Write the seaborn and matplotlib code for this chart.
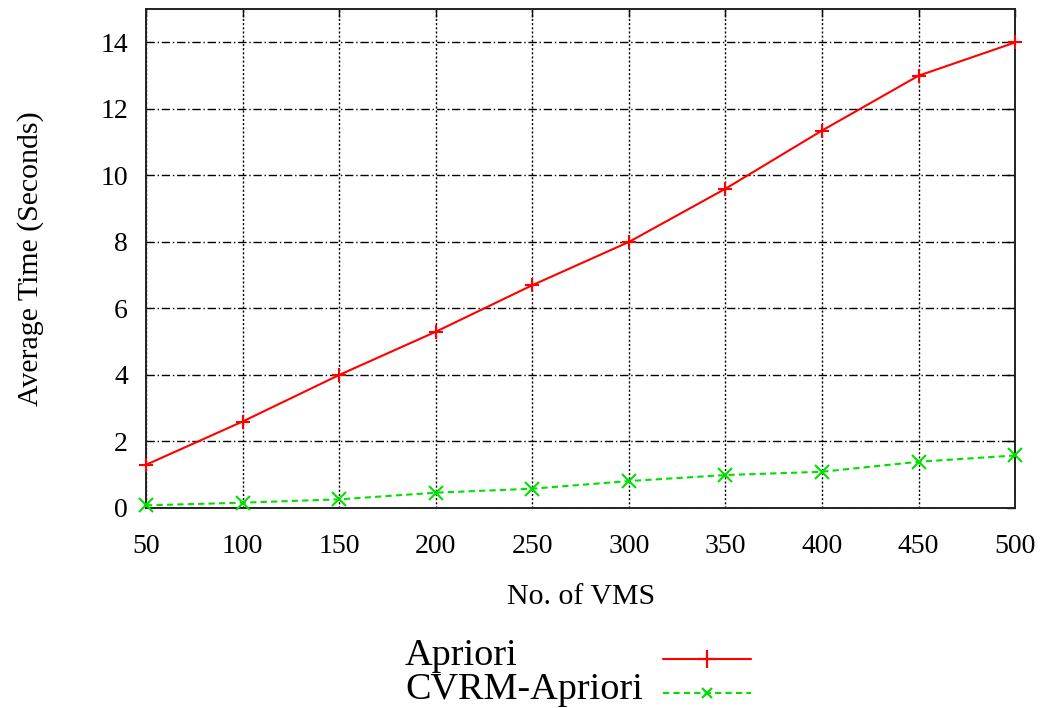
import pandas as pd
import matplotlib
matplotlib.use("Agg")
import matplotlib.pyplot as plt
from matplotlib.lines import Line2D
import seaborn as sns

# data
vms = [50, 100, 150, 200, 250, 300, 350, 400, 450, 500]
apriori = [1.3, 2.6, 4.0, 5.3, 6.7, 8.0, 9.6, 11.35, 13.0, 14.0]
cvrm_apriori = [0.08, 0.16, 0.26, 0.46, 0.58, 0.81, 0.99, 1.09, 1.39, 1.58]
y_ticks = [0, 2, 4, 6, 8, 10, 12, 14]
methods = ["Apriori", "CVRM-Apriori"]

df = pd.concat([
    pd.DataFrame({"VMS": vms, "Time": apriori, "Method": methods[0]}),
    pd.DataFrame({"VMS": vms, "Time": cvrm_apriori, "Method": methods[1]}),
], ignore_index=True)

colors = {"Apriori": "#ff0000", "CVRM-Apriori": "#00e000"}
dashes = {"Apriori": "", "CVRM-Apriori": (3, 2)}
markers = {"Apriori": "+", "CVRM-Apriori": "x"}

sns.set_theme(style="white")
plt.rcParams["font.family"] = ["Liberation Serif", "DejaVu Serif"]
plt.rcParams["text.color"] = "black"
plt.rcParams["axes.labelcolor"] = "black"

fig = plt.figure(figsize=(10.53, 7.08), dpi=100)
ax = fig.add_axes([0.1387, 0.2825, 0.8253, 0.7045])

sns.lineplot(data=df, x="VMS", y="Time", hue="Method", style="Method",
             palette=colors, dashes=dashes, markers=markers,
             markersize=10, markeredgewidth=1.5, linewidth=1.5,
             ax=ax, legend=False, zorder=3)
# seaborn paints marker edges white; give them the line colour
for line in ax.lines:
    line.set_markeredgecolor(line.get_color())
    line.set_clip_on(False)

ax.set_xlim(50, 500)
ax.set_ylim(0, 15)
ax.set_xticks(vms)
ax.set_yticks(y_ticks)
ax.tick_params(direction="in", top=True, right=True, length=6, width=1,
               labelsize=20, colors="black")
ax.tick_params(axis="x", pad=19)
ax.tick_params(axis="y", pad=13)
for s in ax.spines.values():
    s.set_color("#222222")
    s.set_linewidth(1.4)

ax.yaxis.grid(True, color="black", linestyle=(0, (6, 2, 1, 2)), linewidth=1)
ax.xaxis.grid(True, color="black", linestyle=(0, (1.5, 1.5)), linewidth=1)
ax.set_axisbelow(True)

ax.set_xlabel("No. of VMS", fontsize=21.5, labelpad=18)
ax.set_ylabel("Average Time (Seconds)", fontsize=21.5)
ax.yaxis.set_label_coords(-0.117, 0.5)

# gnuplot-style key below the plot: left-aligned text block, samples on the right
fig.text(0.3846, 0.0975, "\n".join(methods), fontsize=27.5, ha="left", va="top",
         linespacing=0.97)
key_y = [0.0692, 0.0212]
for name, line_y in zip(methods, key_y):
    fig.add_artist(Line2D([0.6296, 0.7132], [line_y, line_y], transform=fig.transFigure,
                          color=colors[name], linewidth=1.5,
                          linestyle="-" if name == "Apriori" else (0, (3, 2))))
    fig.add_artist(Line2D([0.6714], [line_y], transform=fig.transFigure,
                          color=colors[name], marker=markers[name], linestyle="none",
                          markersize=13 if name == "Apriori" else 7,
                          markeredgewidth=1.6))

fig.savefig("out.png", dpi=100)
